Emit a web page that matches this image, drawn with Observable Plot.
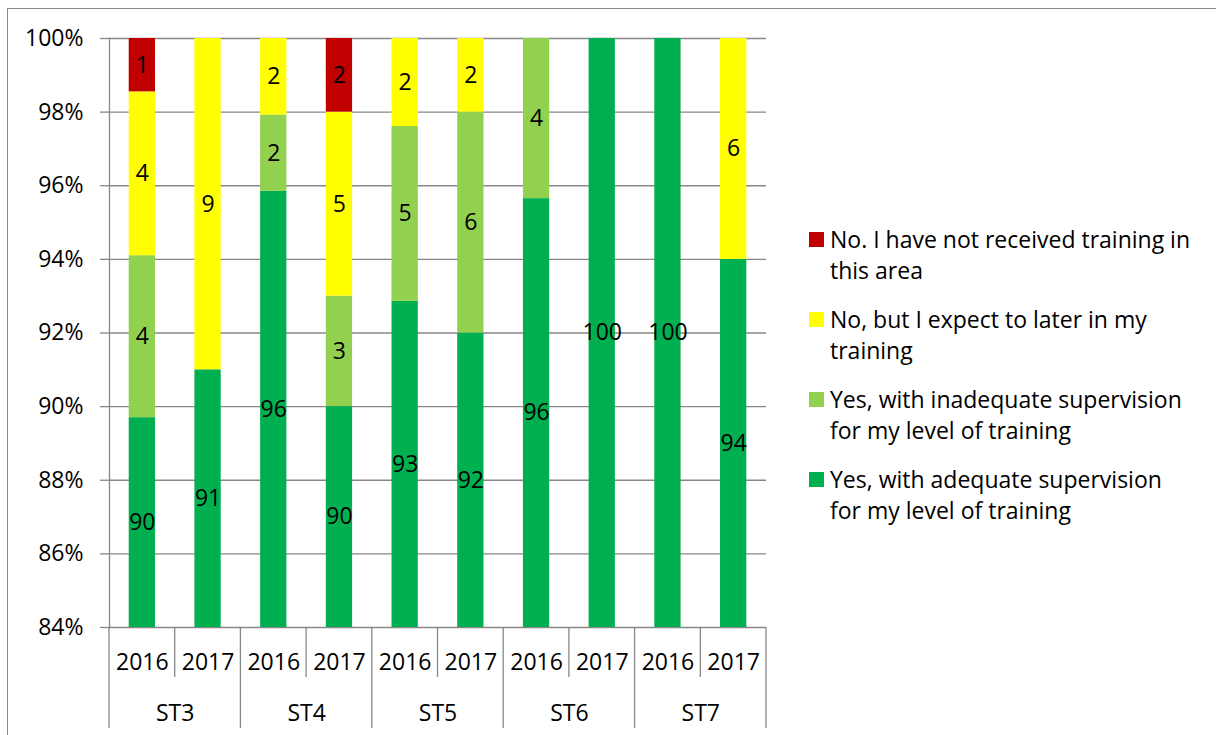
<!DOCTYPE html>
<html>
<head>
<meta charset="utf-8">
<script src="https://cdn.jsdelivr.net/npm/d3@7"></script>
<script src="https://cdn.jsdelivr.net/npm/@observablehq/plot@0.6"></script>
<style>
  html, body { margin: 0; padding: 0; background: #fff; }
  #wrap { position: relative; width: 1216px; height: 735px; overflow: hidden; font-family: "Open Sans", Lato, sans-serif; }
  #frame { position: absolute; left: 7px; top: 8px; width: 1400px; height: 900px; border: 1.5px solid #898989; box-sizing: border-box; }
  #chart { position: absolute; left: 0; top: 0; }
  #legend { position: absolute; left: 809px; top: 224px; font-size: 23px; color: #000; }
  .item { position: relative; height: 80px; }
  .sw { position: absolute; left: 0; top: 8px; width: 15px; height: 15px; }
  .txt { position: absolute; left: 21px; top: 0; line-height: 31px; white-space: nowrap; }
</style>
</head>
<body>
<div id="wrap">
  <div id="frame"></div>
  <div id="chart"></div>
  <div id="legend"></div>
</div>
<script>
// ---- data ----
const groups = ["ST3", "ST3", "ST4", "ST4", "ST5", "ST5", "ST6", "ST6", "ST7", "ST7"];
const years  = ["2016", "2017", "2016", "2017", "2016", "2017", "2016", "2017", "2016", "2017"];
const groupNames = ["ST3", "ST4", "ST5", "ST6", "ST7"];

const seriesNames = [
  "Yes, with adequate supervision for my level of training",
  "Yes, with inadequate supervision for my level of training",
  "No, but I expect to later in my training",
  "No. I have not received training in this area"
];
const seriesColors = ["#00B050", "#92D050", "#FFFF00", "#C00000"];

// percent values (bottom to top)
const adequate    = [89.7, 91.0, 95.85, 90.0, 92.86, 92.0, 95.65, 100, 100, 94.0];
const inadequate  = [4.4,  0,    2.07,  3.0,  4.75,  6.0,  4.35,  0,   0,   0];
const expectLater = [4.45, 9.0,  2.08,  5.0,  2.39,  2.0,  0,     0,   0,   6.0];
const notReceived = [1.45, 0,    0,     2.0,  0,     0,    0,     0,   0,   0];

const yTicks = [84, 86, 88, 90, 92, 94, 96, 98, 100];

// legend (top to bottom), text split as in the original
const legendOrder = [3, 2, 1, 0];
const legendLines = [
  ["Yes, with adequate supervision", "for my level of training"],
  ["Yes, with inadequate supervision", "for my level of training"],
  ["No, but I expect to later in my", "training"],
  ["No. I have not received training in", "this area"]
];

// ---- build stacked table ----
const keys = groups.map((g, i) => g + " " + years[i]);
const seriesValues = [adequate, inadequate, expectLater, notReceived];
const yMin = yTicks[0], yMax = yTicks[yTicks.length - 1];
const rows = [];
keys.forEach((k, i) => {
  let base = 0;
  seriesValues.forEach((vals, s) => {
    const v = vals[i];
    if (v > 0) rows.push({key: k, series: seriesNames[s], y1: base, y2: base + v, label: String(Math.round(v))});
    base += v;
  });
});

const FONT = "'Open Sans', Lato, sans-serif";
const FS = 23;
const GRID = "#878787";

// separators of the two-level category axis, drawn with the x scale
function categorySeparators(index, scales, values, dims) {
  const x = scales.x;
  const step = x.step ? x.step() : (dims.width - dims.marginLeft - dims.marginRight) / keys.length;
  const bw = x.bandwidth ? x.bandwidth() : step * 0.4;
  const base = dims.height - dims.marginBottom;
  const g = d3.create("svg:g").attr("stroke", GRID).attr("stroke-width", 1.3);
  keys.forEach((k, i) => {
    const left = x(k) + bw / 2 - step / 2;
    const len = (i % 2 === 0) ? 101 : 50;
    g.append("line").attr("x1", left).attr("x2", left).attr("y1", base).attr("y2", base + len);
  });
  const last = x(keys[keys.length - 1]) + bw / 2 + step / 2;
  g.append("line").attr("x1", last).attr("x2", last).attr("y1", base).attr("y2", base + 101);
  return g.node();
}

const plotW = 1216 - 109 - 450;
const stepPx = plotW / keys.length;

const chart = Plot.plot({
  width: 1216,
  height: 735,
  marginLeft: 109,
  marginRight: 450,
  marginTop: 38,
  marginBottom: 108,
  style: {fontFamily: FONT, fontSize: FS + "px", color: "#000", background: "transparent", overflow: "visible"},
  x: {domain: keys, paddingInner: 0.6, paddingOuter: 0.3, round: false, axis: null},
  y: {domain: [yMin, yMax], axis: null},
  color: {domain: seriesNames, range: seriesColors},
  marks: [
    Plot.gridY(yTicks, {stroke: GRID, strokeOpacity: 1, strokeWidth: 1.3}),
    Plot.barY(rows, {x: "key", y1: "y1", y2: "y2", fill: "series", clip: true}),
    Plot.axisY(yTicks, {tickFormat: d => d + "%", tickSize: 9, tickPadding: 17, stroke: GRID, strokeWidth: 1.3, fill: "#000", fontSize: FS}),
    Plot.frame({anchor: "left", stroke: GRID, strokeWidth: 1.3}),
    Plot.text(rows, {x: "key", y: d => (Math.max(d.y1, yMin) + d.y2) / 2, text: "label", fill: "#000", fontSize: FS}),
    Plot.text(keys, {x: d => d, text: (d, i) => years[i], frameAnchor: "bottom", dy: 35, lineAnchor: "middle", fill: "#000", fontSize: FS}),
    Plot.text(groupNames, {x: g => g + " 2016", text: g => g, dx: stepPx / 2, frameAnchor: "bottom", dy: 86, lineAnchor: "middle", fill: "#000", fontSize: FS}),
    categorySeparators
  ]
});
document.getElementById("chart").appendChild(chart);

// legend
const legend = document.getElementById("legend");
legendOrder.forEach(s => {
  const item = document.createElement("div");
  item.className = "item";
  const sw = document.createElement("div");
  sw.className = "sw";
  sw.style.background = seriesColors[s];
  const txt = document.createElement("div");
  txt.className = "txt";
  txt.innerHTML = legendLines[s].map(t => t.replace(/&/g, "&amp;")).join("<br>");
  item.appendChild(sw);
  item.appendChild(txt);
  legend.appendChild(item);
});
</script>
</body>
</html>
